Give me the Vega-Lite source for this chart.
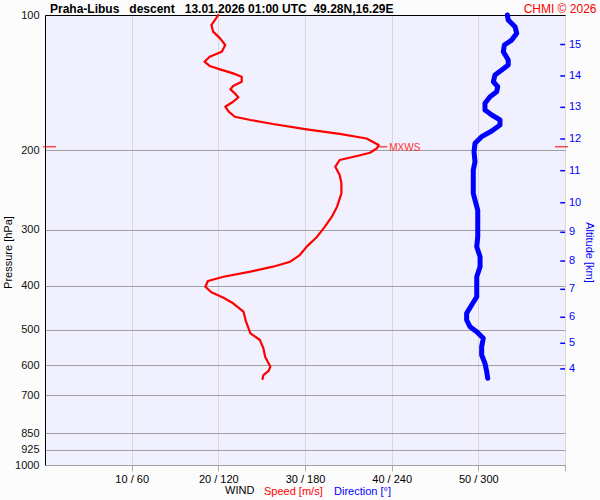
{
  "$schema": "https://vega.github.io/schema/vega-lite/v6.json",
  "width": 520,
  "height": 450,
  "autosize": {"type": "none"},
  "padding": {"left": 45, "top": 15, "right": 35, "bottom": 35},
  "background": "#fcfcfc",
  "config": {"font": "Liberation Sans", "view": {"fill": "#f0f0ff", "stroke": null}},
  "title": {
    "text": "Praha-Libus\u00a0\u00a0\u00a0descent\u00a0\u00a0\u00a013.01.2026 01:00 UTC\u00a0\u00a049.28N,16.29E",
    "anchor": "start", "frame": "group", "fontSize": 12, "fontWeight": "bold", "color": "#000000", "dx": 5, "dy": 16.5, "offset": 3
  },
  "datasets": {
    "speed": [
      {"p": 100, "speed": 20.0}, {"p": 105.3, "speed": 19.2}, {"p": 108.9, "speed": 19.4}, {"p": 112.7, "speed": 20.2},
      {"p": 116.6, "speed": 20.8}, {"p": 120.7, "speed": 20.4}, {"p": 123.8, "speed": 19.0}, {"p": 127.0, "speed": 18.4},
      {"p": 129.8, "speed": 19.0}, {"p": 132.1, "speed": 20.2}, {"p": 134.8, "speed": 21.7}, {"p": 137.1, "speed": 22.7},
      {"p": 140.7, "speed": 22.7}, {"p": 143.8, "speed": 21.7}, {"p": 146.3, "speed": 21.4}, {"p": 149.3, "speed": 21.9},
      {"p": 152.4, "speed": 22.3}, {"p": 155.9, "speed": 21.7}, {"p": 159.9, "speed": 20.8}, {"p": 164.0, "speed": 21.2},
      {"p": 168.3, "speed": 21.9}, {"p": 171.1, "speed": 23.7}, {"p": 174.7, "speed": 26.3}, {"p": 179.5, "speed": 30.2},
      {"p": 183.8, "speed": 34.0}, {"p": 188.1, "speed": 37.1}, {"p": 194.5, "speed": 38.5}, {"p": 197.8, "speed": 38.3},
      {"p": 202.3, "speed": 37.5}, {"p": 205.7, "speed": 36.0}, {"p": 210.0, "speed": 34.0}, {"p": 217.3, "speed": 33.5},
      {"p": 226.8, "speed": 34.0}, {"p": 236.6, "speed": 34.2}, {"p": 249.0, "speed": 34.2}, {"p": 266.7, "speed": 33.7},
      {"p": 280.7, "speed": 33.1}, {"p": 295.4, "speed": 32.3}, {"p": 310.9, "speed": 31.4}, {"p": 327.2, "speed": 30.2},
      {"p": 341.5, "speed": 29.4}, {"p": 353.4, "speed": 28.3}, {"p": 362.5, "speed": 26.3}, {"p": 371.9, "speed": 23.7},
      {"p": 381.6, "speed": 20.6}, {"p": 390.0, "speed": 18.8}, {"p": 401.6, "speed": 18.5}, {"p": 413.2, "speed": 19.2},
      {"p": 424.8, "speed": 20.6}, {"p": 437.2, "speed": 21.7}, {"p": 456.4, "speed": 22.9}, {"p": 480.4, "speed": 23.2},
      {"p": 509.7, "speed": 23.7}, {"p": 527.5, "speed": 24.8}, {"p": 550.4, "speed": 25.2}, {"p": 574.5, "speed": 25.4},
      {"p": 604.7, "speed": 26.0}, {"p": 618.1, "speed": 25.8}, {"p": 631.0, "speed": 25.2}, {"p": 644.0, "speed": 25.1}
    ],
    "dir": [
      {"p": 100, "dir": 320.1}, {"p": 102.6, "dir": 320.7}, {"p": 106.2, "dir": 325.4}, {"p": 109.8, "dir": 326.6},
      {"p": 113.7, "dir": 323.1}, {"p": 116.6, "dir": 318.0}, {"p": 120.7, "dir": 317.3}, {"p": 125.9, "dir": 320.7},
      {"p": 129.2, "dir": 320.7}, {"p": 132.5, "dir": 316.2}, {"p": 135.9, "dir": 311.5}, {"p": 140.7, "dir": 310.4},
      {"p": 144.3, "dir": 313.4}, {"p": 148.1, "dir": 312.7}, {"p": 151.9, "dir": 308.1}, {"p": 157.1, "dir": 304.6},
      {"p": 162.6, "dir": 304.6}, {"p": 166.8, "dir": 309.3}, {"p": 171.1, "dir": 315.0}, {"p": 175.6, "dir": 315.0},
      {"p": 181.0, "dir": 309.3}, {"p": 186.4, "dir": 302.3}, {"p": 192.8, "dir": 297.7}, {"p": 201.3, "dir": 297.0},
      {"p": 211.8, "dir": 297.7}, {"p": 221.0, "dir": 296.5}, {"p": 234.6, "dir": 296.5}, {"p": 249.0, "dir": 296.5},
      {"p": 257.7, "dir": 297.7}, {"p": 271.3, "dir": 299.6}, {"p": 290.4, "dir": 299.6}, {"p": 310.9, "dir": 299.6},
      {"p": 327.2, "dir": 298.9}, {"p": 344.4, "dir": 301.2}, {"p": 362.5, "dir": 301.2}, {"p": 381.6, "dir": 298.9},
      {"p": 401.6, "dir": 298.9}, {"p": 422.7, "dir": 298.9}, {"p": 441.0, "dir": 295.4}, {"p": 460.2, "dir": 291.9},
      {"p": 476.2, "dir": 291.9}, {"p": 492.7, "dir": 294.2}, {"p": 505.5, "dir": 298.9}, {"p": 522.9, "dir": 303.4},
      {"p": 545.9, "dir": 302.3}, {"p": 569.5, "dir": 302.3}, {"p": 594.3, "dir": 304.6}, {"p": 620.4, "dir": 305.8},
      {"p": 641.7, "dir": 306.5}
    ],
    "alt": [
      {"km": "15", "p": 116.3}, {"km": "14", "p": 136.6}, {"km": "13", "p": 160.4}, {"km": "12", "p": 188.6},
      {"km": "11", "p": 221.8}, {"km": "10", "p": 261.3}, {"km": "9", "p": 304.0}, {"km": "8", "p": 352.2},
      {"km": "7", "p": 407.0}, {"km": "6", "p": 469.6}, {"km": "5", "p": 536.4}, {"km": "4", "p": 611.6}
    ],
    "mxws": [{"p": 196.2, "speed": 38.5, "label": "MXWS"}]
  },
  "encoding": {
    "y": {"field": "p", "type": "quantitative", "scale": {"type": "log", "domain": [100, 1000], "reverse": true, "nice": false, "zero": false}, "axis": null}
  },
  "layer": [
    {
      "data": {"name": "speed"},
      "mark": {"type": "line", "strokeWidth": 2.2, "strokeJoin": "round", "strokeCap": "round", "clip": false},
      "encoding": {
        "x": {"field": "speed", "type": "quantitative", "scale": {"domain": [0, 60], "nice": false, "zero": false},
          "axis": {"orient": "bottom", "values": [10, 20, 30, 40, 50, 60], "labelExpr": "datum.value < 60 ? datum.value + ' / ' + datum.value * 6 : ''",
            "grid": true, "gridColor": "#d8d8d8", "domainColor": "#a0a0a0", "tickColor": "#b0b0b0", "tickSize": 6,
            "labelPadding": 2, "labelFontSize": 11, "labelColor": "#000000", "title": null}},
        "y": {"field": "p", "type": "quantitative", "scale": {"type": "log", "domain": [100, 1000], "reverse": true, "nice": false, "zero": false},
          "axis": {"orient": "left", "values": [100, 200, 300, 400, 500, 600, 700, 850, 925, 1000], "format": "d", "grid": true, "gridColor": "#a0a0a0",
            "domainColor": "#000000", "ticks": false, "labelPadding": 6, "labelFontSize": 11, "labelColor": "#111111",
            "title": "Pressure [hPa]", "titleFontSize": 11, "titleFontWeight": "normal", "titleColor": "#000000",
            "titleX": -37, "titleY": 237, "titleAngle": 270, "titleAlign": "center", "titleBaseline": "middle"}},
        "order": {"field": "p", "type": "quantitative"},
        "color": {"datum": "Speed [m/s]", "type": "nominal",
          "scale": {"domain": ["Speed [m/s]", "Direction [°]"], "range": ["#ff0000", "#0000ff"]},
          "legend": {"orient": "none", "legendX": 180, "legendY": 471, "direction": "horizontal", "title": "WIND",
            "titleOrient": "left", "titleFontSize": 11, "titleFontWeight": "normal", "titleColor": "#000000", "titlePadding": -2,
            "labelFontSize": 11, "labelColor": {"expr": "datum.label == 'Speed [m/s]' ? '#ff0000' : '#0000ff'"},
            "symbolSize": 0, "symbolStrokeWidth": 0, "symbolOpacity": 0, "labelOffset": 0, "columnPadding": -2}}
      }
    },
    {
      "data": {"name": "dir"},
      "mark": {"type": "line", "strokeWidth": 5, "strokeJoin": "round", "strokeCap": "round", "clip": false},
      "encoding": {
        "x": {"field": "dir", "type": "quantitative", "scale": {"domain": [0, 360], "nice": false, "zero": false}, "axis": null},
        "order": {"field": "p", "type": "quantitative"},
        "color": {"datum": "Direction [°]", "type": "nominal"}
      }
    },
    {
      "data": {"name": "alt"},
      "mark": {"type": "text", "align": "left", "baseline": "middle", "dx": 4, "fontSize": 11, "color": "#0000ff", "clip": false},
      "encoding": {
        "x": {"datum": 60, "type": "quantitative", "scale": {"domain": [0, 60], "nice": false, "zero": false},
          "axis": {"orient": "top", "domain": true, "domainColor": "#000000", "ticks": false, "labels": false, "grid": false,
            "title": "CHMI © 2026", "titleColor": "#ff0000", "titleFontSize": 12, "titleFontWeight": "normal",
            "titleX": 551, "titleY": -3, "titleAlign": "right", "titleBaseline": "alphabetic"}},
        "y": {"field": "p", "type": "quantitative", "scale": {"type": "log", "domain": [100, 1000], "reverse": true, "nice": false, "zero": false},
          "axis": {"orient": "right", "domain": false, "ticks": false, "labels": false, "grid": false,
            "title": "Altitude [km]", "titleColor": "#0000ff", "titleFontSize": 11, "titleFontWeight": "normal",
            "titleAngle": 90, "titleX": 23, "titleY": 237, "titleAlign": "center", "titleBaseline": "middle"}},
        "text": {"field": "km"}
      }
    },
    {
      "data": {"name": "alt"},
      "mark": {"type": "rule", "color": "#0000ff", "strokeWidth": 1.5, "clip": false},
      "encoding": {
        "x": {"datum": 59.45, "type": "quantitative", "scale": {"domain": [0, 60], "nice": false, "zero": false}, "axis": null},
        "x2": {"datum": 60}
      }
    },
    {
      "data": {"name": "mxws"},
      "mark": {"type": "text", "align": "left", "baseline": "middle", "dx": 10.6, "dy": 1.5, "fontSize": 10, "color": "#ff3030", "clip": false},
      "encoding": {
        "x": {"field": "speed", "type": "quantitative", "scale": {"domain": [0, 60], "nice": false, "zero": false}, "axis": null},
        "text": {"field": "label"}
      }
    },
    {
      "data": {"name": "mxws"},
      "mark": {"type": "tick", "orient": "horizontal", "size": 9, "thickness": 1.5, "xOffset": 4, "color": "#ff0000", "clip": false},
      "encoding": {
        "x": {"field": "speed", "type": "quantitative", "scale": {"domain": [0, 60], "nice": false, "zero": false}, "axis": null}
      }
    },
    {
      "data": {"name": "mxws"},
      "mark": {"type": "tick", "orient": "horizontal", "size": 13, "thickness": 1.5, "xOffset": 4.5, "color": "#ff0000", "clip": false},
      "encoding": {
        "x": {"datum": 0, "type": "quantitative", "scale": {"domain": [0, 60], "nice": false, "zero": false}, "axis": null}
      }
    },
    {
      "data": {"name": "mxws"},
      "mark": {"type": "tick", "orient": "horizontal", "size": 13, "thickness": 1.5, "xOffset": -3.5, "color": "#ff0000", "clip": false},
      "encoding": {
        "x": {"datum": 60, "type": "quantitative", "scale": {"domain": [0, 60], "nice": false, "zero": false}, "axis": null}
      }
    }
  ],
  "resolve": {"scale": {"x": "independent"}, "axis": {"x": "independent", "y": "independent"}}
}
